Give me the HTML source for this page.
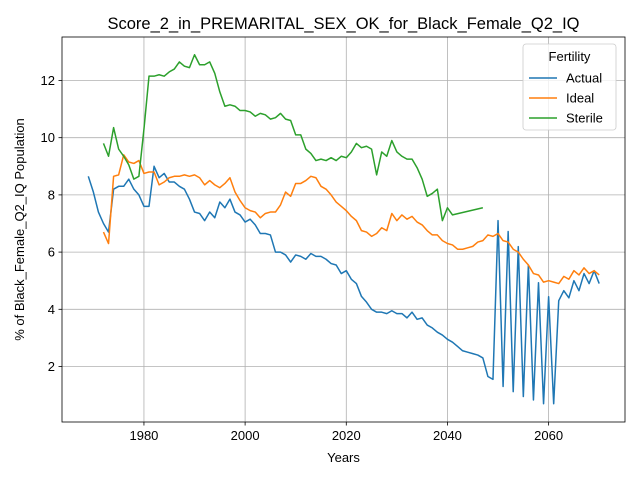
<!DOCTYPE html>
<html><head><meta charset="utf-8"><style>
body{margin:0;background:#fff;font-family:"Liberation Sans",sans-serif}
</style></head><body>
<svg id="chart" width="640" height="480" xmlns="http://www.w3.org/2000/svg" font-family="Liberation Sans, sans-serif"></svg>
<script>
const actualYears=[];for(let y=1969;y<=2070;y++)actualYears.push(y);
const actualValues=[8.65,8.1,7.4,7.0,6.7,8.2,8.3,8.3,8.55,8.2,8.0,7.6,7.6,9.0,8.6,8.75,8.45,8.45,8.3,8.2,7.85,7.4,7.35,7.1,7.4,7.2,7.75,7.55,7.85,7.4,7.3,7.05,7.15,6.95,6.65,6.65,6.6,6.0,6.0,5.9,5.65,5.9,5.85,5.75,5.95,5.85,5.85,5.75,5.6,5.55,5.25,5.35,5.05,4.9,4.45,4.25,4.0,3.9,3.9,3.85,3.95,3.85,3.85,3.7,3.9,3.65,3.7,3.45,3.35,3.2,3.1,2.95,2.85,2.7,2.55,2.5,2.45,2.4,2.3,1.65,1.55,7.1,1.3,6.72,1.12,6.19,0.95,5.55,0.83,4.93,0.7,4.44,0.7,4.3,4.65,4.4,5.0,4.65,5.25,4.9,5.35,4.9];
const idealYears=[];for(let y=1972;y<=2070;y++)idealYears.push(y);
const idealValues=[6.7,6.3,8.65,8.7,9.4,9.15,9.1,9.2,8.75,8.8,8.8,8.35,8.45,8.6,8.65,8.65,8.7,8.65,8.7,8.6,8.35,8.5,8.35,8.25,8.4,8.6,8.1,7.8,7.55,7.45,7.4,7.2,7.35,7.4,7.4,7.65,8.1,7.95,8.4,8.4,8.5,8.65,8.6,8.3,8.2,8.0,7.75,7.6,7.45,7.25,7.1,6.75,6.7,6.55,6.65,6.85,6.75,7.35,7.1,7.3,7.15,7.25,7.05,6.95,6.75,6.6,6.6,6.4,6.3,6.25,6.1,6.1,6.15,6.2,6.35,6.4,6.6,6.55,6.65,6.4,6.35,6.1,6.0,5.75,5.55,5.25,5.2,4.95,5.0,4.95,4.9,5.15,5.05,5.35,5.2,5.45,5.25,5.35,5.2];
const sterileYears=[];for(let y=1972;y<=2041;y++)sterileYears.push(y);sterileYears.push(2047);
const sterileValues=[9.8,9.35,10.35,9.6,9.35,9.05,8.55,8.65,10.3,12.15,12.15,12.2,12.15,12.3,12.4,12.65,12.5,12.45,12.9,12.55,12.55,12.65,12.25,11.6,11.1,11.15,11.1,10.95,10.95,10.9,10.75,10.85,10.8,10.65,10.7,10.85,10.65,10.6,10.1,10.1,9.6,9.45,9.2,9.25,9.2,9.3,9.2,9.35,9.3,9.5,9.8,9.65,9.7,9.6,8.7,9.5,9.35,9.9,9.5,9.35,9.25,9.25,8.95,8.55,7.95,8.05,8.2,7.1,7.55,7.3,7.55];
const xTicks=[1980,2000,2020,2040,2060];
const yTicks=[2,4,6,8,10,12];
const L=62,R=625,T=37,B=422,X0=1963.8,X1=2075.1,Y0=0.06,Y1=13.52;
const sx=v=>L+(v-X0)/(X1-X0)*(R-L);
const sy=v=>B-(v-Y0)/(Y1-Y0)*(B-T);
const svg=document.getElementById('chart');
const NS='http://www.w3.org/2000/svg';
function mk(tag,attrs,parent){const e=document.createElementNS(NS,tag);for(const k in attrs)e.setAttribute(k,attrs[k]);(parent||svg).appendChild(e);return e;}
const grid=mk('g',{});


xTicks.forEach(t=>{const x=sx(t);
mk('line',{x1:x,x2:x,y1:T,y2:B,stroke:'#b0b0b0','stroke-width':0.8},grid);
mk('line',{x1:x,x2:x,y1:B,y2:B+3.5,stroke:'#000','stroke-width':0.8});
const tx=mk('text',{x:x,y:B+18,'text-anchor':'middle','font-size':13});tx.textContent=t;

});
yTicks.forEach(t=>{const y=sy(t);
mk('line',{x1:L,x2:R,y1:y,y2:y,stroke:'#b0b0b0','stroke-width':0.8},grid);
mk('line',{x1:L-3.5,x2:L,y1:y,y2:y,stroke:'#000','stroke-width':0.8});
const tx=mk('text',{x:L-7,y:y+4.5,'text-anchor':'end','font-size':13});tx.textContent=t;

});
function series(xs,ys,color,name){const p=mk('polyline',{points:xs.map((x,i)=>sx(x)+','+sy(ys[i])).join(' '),fill:'none',stroke:color,'stroke-width':1.5,'stroke-linejoin':'round'});

}
series(actualYears,actualValues,'#1f77b4','actual-line');
series(idealYears,idealValues,'#ff7f0e','ideal-line');
series(sterileYears,sterileValues,'#2ca02c','sterile-line');
const frame=mk('rect',{x:L,y:T,width:R-L,height:B-T,fill:'none',stroke:'#000','stroke-width':0.8});


const title=mk('text',{x:(L+R)/2,y:29,'text-anchor':'middle','font-size':16.5});title.textContent='Score_2_in_PREMARITAL_SEX_OK_for_Black_Female_Q2_IQ';


const xl=mk('text',{x:(L+R)/2,y:462,'text-anchor':'middle','font-size':13});xl.textContent='Years';


const yl=mk('text',{x:0,y:0,'text-anchor':'middle','font-size':13,transform:'translate(24,'+((T+B)/2)+') rotate(-90)'});yl.textContent='% of Black_Female_Q2_IQ Population';


const lg=mk('g',{});


mk('rect',{x:523,y:44,width:93,height:86,rx:3,fill:'#fff','fill-opacity':0.8,stroke:'#ccc','stroke-width':0.8},lg);
const lt=mk('text',{x:569.5,y:61,'text-anchor':'middle','font-size':13},lg);lt.textContent='Fertility';
[['Actual','#1f77b4'],['Ideal','#ff7f0e'],['Sterile','#2ca02c']].forEach((d,i)=>{const y=78+i*20;
mk('line',{x1:529,x2:557,y1:y,y2:y,stroke:d[1],'stroke-width':1.5},lg);
const t=mk('text',{x:566,y:y+4.5,'font-size':13},lg);t.textContent=d[0];

});
</script>
</body></html>
